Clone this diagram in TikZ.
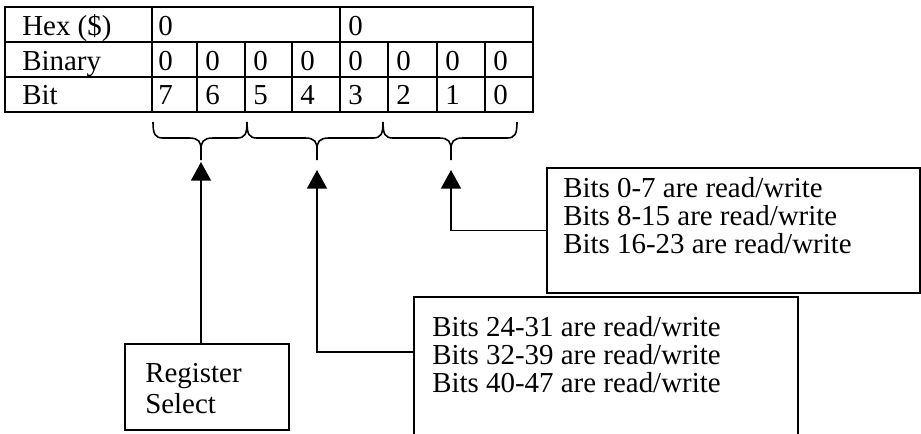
\documentclass[tikz,border=0pt]{standalone}
\usepackage{fontspec}
\setmainfont{Liberation Serif}
\usetikzlibrary{arrows.meta}
\newcommand\mybrace[3]{%
  \draw[brace] (#1,122) .. controls (#1,134) and (#1+2,138) .. (#1+10,138) -- (#2-12,138) .. controls (#2-2,138) and (#2,142) .. (#2,150) -- (#2,160);
  \draw[brace] (#2,150) .. controls (#2,142) and (#2+2,138) .. (#2+12,138) -- (#3-10,138) .. controls (#3-2,138) and (#3,134) .. (#3,122);}
\begin{document}
\begin{tikzpicture}[x=0.75pt,y=-0.75pt,
  txt/.style={font=\fontsize{21.7pt}{21pt}\selectfont, inner sep=0pt},
  cell/.style={txt, anchor=base west},
  grid/.style={line width=1.5pt},
  box/.style={draw, line width=1.5pt, rectangle, inner sep=0pt, anchor=north west},
  brace/.style={line width=1.2pt},
  arr/.style={line width=1.3pt, -{Triangle[length=14pt,width=15pt]}},
  para/.style={txt, align=left, anchor=north west}]
\useasboundingbox (0,0) rectangle (921,433);
\clip (0,0) rectangle (921,433);
% table
\draw[grid] (5,7) rectangle (533,112);
\draw[grid] (5,42) -- (533,42) (5,77) -- (533,77);
\draw[grid] (152,7) -- (152,112) (340,7) -- (340,112);
\foreach \x in {197,245,292,388,437,485} \draw[grid] (\x,42) -- (\x,112);
\node[cell] (hexl) at (22,35) {Hex (\$)};
\node[cell] (binl) at (22,70) {Binary};
\node[cell] (bitl) at (22,104) {Bit};
\node[cell] (hexa) at (158,35) {0};
\node[cell] (hexb) at (348,35) {0};
\foreach \x [count=\i] in {158,205,253,300,348,396,445,493} {
  \node[cell] (bin\i) at (\x,70) {0};
}
\foreach \x/\b in {158/7,205/6,253/5,300/4,348/3,396/2,445/1,493/0} {
  \node[cell] (bit\b) at (\x,104) {\b};
}
% braces
\mybrace{153}{201}{247}
\mybrace{247}{317}{383}
\mybrace{383}{451}{517}
% boxes
\node[box, minimum width=123pt, minimum height=64.5pt] (rs) at (124,343) {};
\node[box, minimum width=279.75pt, minimum height=93.75pt] (b1) at (546,167) {};
\node[box, minimum width=288pt, minimum height=115.5pt] (b2) at (413,296) {};
\node[para] (rst) at (145,363) {Register\\[2.5pt]Select};
\node[para] (b1t) at (563,177) {Bits 0-7 are read/write\\Bits 8-15 are read/write\\Bits 16-23 are read/write};
\node[para] (b2t) at (432,316) {Bits 24-31 are read/write\\Bits 32-39 are read/write\\Bits 40-47 are read/write};
% connectors
\coordinate (t1) at (201,162);
\coordinate (t2) at (317,170);
\coordinate (t3) at (451,170);
\coordinate (j2) at (317,352);
\draw[arr] (rs.north -| t1) -- (t1);
\draw[arr] (b2.west |- j2) -- (j2) -- (t2);
\draw[arr] (b1.west) -| (t3);
\end{tikzpicture}
\end{document}
